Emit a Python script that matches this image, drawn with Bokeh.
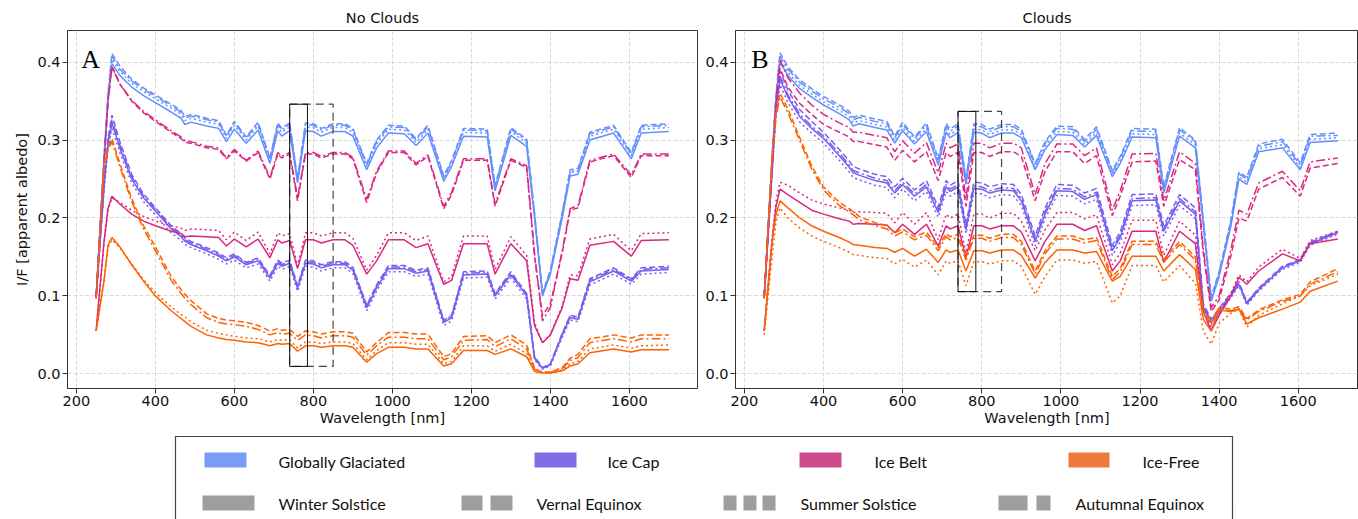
from bokeh.plotting import figure
from bokeh.layouts import column, row
from bokeh.models import Range1d, Label, FixedTicker, PrintfTickFormatter
from bokeh.embed import file_html
from bokeh.resources import INLINE
from bokeh.core.properties import value

# ---------------------------------------------------------------- data
wavelength = [250, 270, 280, 290, 310, 340, 370, 400, 440, 465, 475, 490, 530, 560, 580,
              600, 630, 660, 690, 710, 720, 740, 760, 780, 800, 820, 850, 880, 900, 935,
              960, 990, 1030, 1060, 1090, 1130, 1150, 1180, 1240, 1260, 1300, 1340, 1360,
              1380, 1400, 1430, 1450, 1470, 1500, 1560, 1605, 1630, 1700]

# --- No clouds
nc_glob_win = [0.098, 0.27, 0.35, 0.398, 0.383, 0.368, 0.357, 0.348, 0.336, 0.328, 0.32, 0.323, 0.318, 0.315, 0.298, 0.314, 0.296, 0.313, 0.27, 0.312, 0.305, 0.312, 0.245, 0.312, 0.311, 0.305, 0.311, 0.311, 0.305, 0.262, 0.29, 0.309, 0.308, 0.293, 0.309, 0.247, 0.266, 0.305, 0.304, 0.235, 0.306, 0.292, 0.2, 0.1, 0.128, 0.2, 0.254, 0.256, 0.3, 0.309, 0.276, 0.309, 0.311]
nc_glob_ver = [0.1, 0.28, 0.36, 0.411, 0.395, 0.378, 0.367, 0.358, 0.346, 0.338, 0.33, 0.333, 0.328, 0.325, 0.306, 0.324, 0.304, 0.323, 0.277, 0.322, 0.315, 0.322, 0.25, 0.322, 0.321, 0.315, 0.321, 0.321, 0.315, 0.27, 0.3, 0.319, 0.318, 0.302, 0.319, 0.254, 0.274, 0.315, 0.314, 0.242, 0.316, 0.301, 0.206, 0.104, 0.133, 0.207, 0.262, 0.264, 0.31, 0.319, 0.284, 0.319, 0.321]
nc_glob_sum = [0.099, 0.274, 0.354, 0.404, 0.388, 0.373, 0.362, 0.353, 0.341, 0.333, 0.325, 0.328, 0.323, 0.32, 0.302, 0.319, 0.3, 0.318, 0.273, 0.317, 0.31, 0.317, 0.247, 0.317, 0.316, 0.31, 0.316, 0.316, 0.31, 0.266, 0.295, 0.314, 0.313, 0.297, 0.314, 0.25, 0.27, 0.31, 0.309, 0.238, 0.311, 0.296, 0.203, 0.102, 0.13, 0.203, 0.258, 0.26, 0.305, 0.314, 0.28, 0.314, 0.316]
nc_glob_aut = [0.1, 0.277, 0.357, 0.408, 0.391, 0.376, 0.365, 0.356, 0.344, 0.336, 0.328, 0.331, 0.326, 0.323, 0.305, 0.322, 0.303, 0.321, 0.276, 0.32, 0.313, 0.32, 0.249, 0.32, 0.319, 0.313, 0.319, 0.319, 0.313, 0.268, 0.298, 0.317, 0.316, 0.3, 0.317, 0.252, 0.272, 0.313, 0.312, 0.24, 0.314, 0.299, 0.205, 0.103, 0.131, 0.205, 0.26, 0.262, 0.308, 0.317, 0.282, 0.317, 0.319]

nc_cap_win = [0.098, 0.24, 0.295, 0.322, 0.29, 0.25, 0.226, 0.209, 0.186, 0.176, 0.17, 0.166, 0.158, 0.151, 0.145, 0.15, 0.14, 0.145, 0.123, 0.142, 0.138, 0.142, 0.11, 0.142, 0.141, 0.136, 0.14, 0.14, 0.133, 0.085, 0.11, 0.135, 0.135, 0.129, 0.132, 0.066, 0.072, 0.127, 0.128, 0.1, 0.127, 0.1, 0.02, 0.007, 0.012, 0.05, 0.072, 0.07, 0.118, 0.132, 0.119, 0.132, 0.134]
nc_cap_ver = [0.098, 0.245, 0.302, 0.332, 0.298, 0.256, 0.231, 0.213, 0.19, 0.18, 0.174, 0.17, 0.162, 0.155, 0.149, 0.154, 0.143, 0.149, 0.126, 0.146, 0.142, 0.146, 0.113, 0.146, 0.145, 0.14, 0.144, 0.144, 0.137, 0.088, 0.114, 0.139, 0.139, 0.133, 0.136, 0.069, 0.075, 0.131, 0.132, 0.103, 0.131, 0.103, 0.022, 0.008, 0.013, 0.052, 0.075, 0.073, 0.122, 0.136, 0.122, 0.136, 0.138]
nc_cap_sum = [0.098, 0.235, 0.288, 0.315, 0.284, 0.245, 0.221, 0.204, 0.181, 0.171, 0.166, 0.162, 0.154, 0.147, 0.141, 0.146, 0.136, 0.141, 0.119, 0.138, 0.134, 0.138, 0.106, 0.138, 0.137, 0.132, 0.136, 0.136, 0.129, 0.081, 0.106, 0.131, 0.131, 0.125, 0.128, 0.062, 0.068, 0.123, 0.124, 0.096, 0.123, 0.096, 0.018, 0.006, 0.01, 0.047, 0.069, 0.067, 0.114, 0.128, 0.115, 0.128, 0.13]
nc_cap_aut = [0.098, 0.242, 0.298, 0.327, 0.294, 0.253, 0.228, 0.211, 0.188, 0.178, 0.172, 0.168, 0.16, 0.153, 0.147, 0.152, 0.142, 0.147, 0.125, 0.144, 0.14, 0.144, 0.112, 0.144, 0.143, 0.138, 0.142, 0.142, 0.135, 0.087, 0.112, 0.137, 0.137, 0.131, 0.134, 0.068, 0.074, 0.129, 0.13, 0.102, 0.129, 0.102, 0.021, 0.007, 0.012, 0.051, 0.074, 0.072, 0.12, 0.134, 0.121, 0.134, 0.136]

nc_belt_win = [0.055, 0.17, 0.212, 0.228, 0.218, 0.205, 0.196, 0.19, 0.183, 0.18, 0.176, 0.177, 0.176, 0.175, 0.164, 0.173, 0.163, 0.173, 0.149, 0.172, 0.168, 0.171, 0.135, 0.172, 0.172, 0.168, 0.172, 0.172, 0.165, 0.128, 0.145, 0.172, 0.172, 0.162, 0.167, 0.115, 0.12, 0.167, 0.167, 0.128, 0.167, 0.145, 0.062, 0.04, 0.05, 0.085, 0.122, 0.12, 0.165, 0.17, 0.151, 0.171, 0.172]
nc_belt_ver = [0.097, 0.27, 0.35, 0.395, 0.372, 0.35, 0.335, 0.324, 0.31, 0.302, 0.297, 0.296, 0.29, 0.288, 0.276, 0.286, 0.273, 0.284, 0.25, 0.282, 0.277, 0.282, 0.222, 0.282, 0.282, 0.277, 0.282, 0.282, 0.276, 0.22, 0.258, 0.284, 0.284, 0.268, 0.279, 0.212, 0.23, 0.274, 0.274, 0.215, 0.274, 0.265, 0.15, 0.075, 0.09, 0.155, 0.21, 0.213, 0.272, 0.28, 0.252, 0.28, 0.28]
nc_belt_sum = [0.055, 0.168, 0.21, 0.226, 0.22, 0.21, 0.202, 0.196, 0.19, 0.187, 0.184, 0.186, 0.185, 0.184, 0.172, 0.182, 0.171, 0.182, 0.154, 0.181, 0.177, 0.18, 0.138, 0.181, 0.181, 0.177, 0.181, 0.181, 0.174, 0.133, 0.152, 0.181, 0.181, 0.171, 0.177, 0.118, 0.125, 0.177, 0.177, 0.134, 0.176, 0.152, 0.066, 0.04, 0.05, 0.087, 0.127, 0.126, 0.173, 0.179, 0.158, 0.18, 0.181]
nc_belt_aut = [0.097, 0.27, 0.35, 0.393, 0.372, 0.351, 0.337, 0.326, 0.312, 0.304, 0.299, 0.298, 0.292, 0.29, 0.277, 0.288, 0.274, 0.286, 0.252, 0.284, 0.279, 0.284, 0.226, 0.284, 0.284, 0.279, 0.284, 0.284, 0.278, 0.224, 0.26, 0.286, 0.286, 0.27, 0.281, 0.215, 0.233, 0.276, 0.276, 0.218, 0.276, 0.267, 0.155, 0.068, 0.085, 0.158, 0.212, 0.216, 0.274, 0.282, 0.255, 0.282, 0.282]

nc_free_win = [0.055, 0.12, 0.165, 0.175, 0.163, 0.14, 0.119, 0.1, 0.081, 0.071, 0.067, 0.061, 0.05, 0.046, 0.044, 0.043, 0.041, 0.04, 0.036, 0.039, 0.038, 0.039, 0.029, 0.036, 0.036, 0.034, 0.036, 0.036, 0.034, 0.015, 0.026, 0.034, 0.034, 0.032, 0.032, 0.01, 0.013, 0.03, 0.03, 0.025, 0.032, 0.022, 0.003, 0.001, 0.001, 0.004, 0.01, 0.013, 0.027, 0.032, 0.028, 0.031, 0.031]
nc_free_ver = [0.097, 0.27, 0.29, 0.302, 0.27, 0.225, 0.19, 0.163, 0.125, 0.108, 0.102, 0.094, 0.077, 0.071, 0.069, 0.068, 0.066, 0.062, 0.055, 0.058, 0.056, 0.057, 0.048, 0.055, 0.054, 0.051, 0.054, 0.054, 0.052, 0.028, 0.04, 0.053, 0.053, 0.051, 0.051, 0.022, 0.026, 0.048, 0.049, 0.04, 0.05, 0.037, 0.007, 0.002, 0.002, 0.008, 0.02, 0.025, 0.045, 0.05, 0.046, 0.05, 0.05]
nc_free_sum = [0.055, 0.118, 0.162, 0.172, 0.162, 0.141, 0.121, 0.104, 0.086, 0.076, 0.073, 0.067, 0.056, 0.052, 0.05, 0.048, 0.046, 0.045, 0.041, 0.044, 0.043, 0.044, 0.033, 0.041, 0.041, 0.039, 0.041, 0.041, 0.039, 0.018, 0.03, 0.04, 0.04, 0.038, 0.038, 0.013, 0.016, 0.036, 0.036, 0.029, 0.038, 0.026, 0.004, 0.001, 0.001, 0.005, 0.013, 0.016, 0.032, 0.037, 0.033, 0.036, 0.037]
nc_free_aut = [0.097, 0.265, 0.287, 0.298, 0.266, 0.221, 0.186, 0.158, 0.12, 0.103, 0.097, 0.089, 0.072, 0.066, 0.064, 0.063, 0.061, 0.057, 0.05, 0.053, 0.051, 0.052, 0.043, 0.05, 0.049, 0.046, 0.049, 0.049, 0.047, 0.024, 0.036, 0.047, 0.047, 0.045, 0.045, 0.018, 0.022, 0.043, 0.044, 0.035, 0.045, 0.032, 0.006, 0.002, 0.002, 0.007, 0.017, 0.021, 0.04, 0.045, 0.041, 0.045, 0.045]

# --- Clouds
cl_glob_win = [0.098, 0.27, 0.35, 0.4, 0.383, 0.366, 0.355, 0.345, 0.334, 0.326, 0.318, 0.321, 0.316, 0.313, 0.296, 0.312, 0.295, 0.311, 0.268, 0.31, 0.303, 0.31, 0.243, 0.31, 0.309, 0.303, 0.309, 0.309, 0.303, 0.262, 0.288, 0.307, 0.306, 0.291, 0.306, 0.253, 0.27, 0.304, 0.303, 0.232, 0.305, 0.29, 0.19, 0.093, 0.125, 0.19, 0.25, 0.243, 0.285, 0.29, 0.262, 0.297, 0.299]
cl_glob_ver = [0.1, 0.28, 0.36, 0.412, 0.394, 0.377, 0.366, 0.356, 0.345, 0.337, 0.329, 0.332, 0.327, 0.324, 0.305, 0.323, 0.304, 0.322, 0.276, 0.321, 0.314, 0.321, 0.25, 0.321, 0.32, 0.314, 0.32, 0.32, 0.314, 0.27, 0.298, 0.318, 0.317, 0.301, 0.317, 0.261, 0.279, 0.315, 0.314, 0.24, 0.316, 0.3, 0.198, 0.099, 0.131, 0.198, 0.259, 0.252, 0.295, 0.301, 0.271, 0.307, 0.309]
cl_glob_sum = [0.099, 0.274, 0.354, 0.404, 0.387, 0.37, 0.359, 0.349, 0.338, 0.33, 0.322, 0.325, 0.32, 0.317, 0.299, 0.316, 0.298, 0.315, 0.271, 0.314, 0.307, 0.314, 0.245, 0.314, 0.313, 0.307, 0.313, 0.313, 0.307, 0.265, 0.292, 0.311, 0.31, 0.294, 0.31, 0.256, 0.273, 0.308, 0.307, 0.234, 0.309, 0.294, 0.193, 0.095, 0.127, 0.193, 0.253, 0.246, 0.289, 0.294, 0.265, 0.301, 0.303]
cl_glob_aut = [0.1, 0.277, 0.357, 0.408, 0.391, 0.374, 0.363, 0.353, 0.342, 0.334, 0.326, 0.329, 0.324, 0.321, 0.303, 0.32, 0.302, 0.319, 0.274, 0.318, 0.311, 0.318, 0.248, 0.318, 0.317, 0.311, 0.317, 0.317, 0.311, 0.268, 0.296, 0.315, 0.314, 0.298, 0.314, 0.259, 0.277, 0.312, 0.311, 0.237, 0.313, 0.298, 0.196, 0.097, 0.129, 0.196, 0.257, 0.25, 0.292, 0.298, 0.268, 0.305, 0.306]

cl_cap_win = [0.098, 0.26, 0.34, 0.378, 0.355, 0.33, 0.315, 0.302, 0.28, 0.265, 0.258, 0.255, 0.248, 0.245, 0.232, 0.243, 0.228, 0.24, 0.207, 0.24, 0.234, 0.24, 0.185, 0.238, 0.237, 0.232, 0.236, 0.235, 0.222, 0.17, 0.205, 0.235, 0.234, 0.224, 0.23, 0.158, 0.175, 0.222, 0.223, 0.183, 0.222, 0.205, 0.085, 0.066, 0.08, 0.1, 0.115, 0.09, 0.108, 0.136, 0.145, 0.167, 0.181]
cl_cap_ver = [0.098, 0.265, 0.348, 0.389, 0.364, 0.339, 0.324, 0.31, 0.288, 0.273, 0.266, 0.263, 0.256, 0.253, 0.24, 0.251, 0.236, 0.248, 0.214, 0.248, 0.242, 0.248, 0.191, 0.246, 0.245, 0.24, 0.244, 0.243, 0.23, 0.177, 0.213, 0.243, 0.242, 0.232, 0.238, 0.165, 0.182, 0.23, 0.231, 0.19, 0.23, 0.213, 0.09, 0.07, 0.084, 0.104, 0.118, 0.092, 0.11, 0.138, 0.147, 0.169, 0.183]
cl_cap_sum = [0.098, 0.255, 0.333, 0.371, 0.348, 0.323, 0.309, 0.296, 0.274, 0.259, 0.252, 0.249, 0.242, 0.239, 0.226, 0.237, 0.222, 0.234, 0.201, 0.234, 0.228, 0.234, 0.18, 0.232, 0.231, 0.226, 0.23, 0.229, 0.216, 0.164, 0.199, 0.229, 0.228, 0.218, 0.224, 0.152, 0.169, 0.216, 0.217, 0.177, 0.216, 0.199, 0.081, 0.063, 0.077, 0.098, 0.113, 0.088, 0.106, 0.134, 0.143, 0.165, 0.179]
cl_cap_aut = [0.098, 0.262, 0.343, 0.382, 0.358, 0.333, 0.318, 0.305, 0.283, 0.268, 0.261, 0.258, 0.251, 0.248, 0.235, 0.246, 0.231, 0.243, 0.21, 0.243, 0.237, 0.243, 0.188, 0.241, 0.24, 0.235, 0.239, 0.238, 0.225, 0.173, 0.208, 0.238, 0.237, 0.227, 0.233, 0.161, 0.178, 0.225, 0.226, 0.186, 0.225, 0.208, 0.087, 0.068, 0.082, 0.102, 0.116, 0.091, 0.109, 0.137, 0.146, 0.168, 0.182]

cl_belt_win = [0.055, 0.17, 0.215, 0.237, 0.23, 0.22, 0.21, 0.205, 0.199, 0.196, 0.192, 0.193, 0.192, 0.191, 0.181, 0.192, 0.179, 0.192, 0.164, 0.19, 0.186, 0.19, 0.149, 0.19, 0.19, 0.186, 0.19, 0.19, 0.182, 0.145, 0.17, 0.192, 0.192, 0.184, 0.19, 0.132, 0.145, 0.183, 0.183, 0.143, 0.183, 0.167, 0.08, 0.055, 0.075, 0.1, 0.124, 0.115, 0.132, 0.154, 0.145, 0.167, 0.173]
cl_belt_ver = [0.097, 0.265, 0.34, 0.392, 0.368, 0.347, 0.333, 0.32, 0.31, 0.304, 0.298, 0.298, 0.294, 0.291, 0.274, 0.287, 0.272, 0.285, 0.248, 0.284, 0.279, 0.284, 0.215, 0.284, 0.284, 0.279, 0.285, 0.285, 0.279, 0.222, 0.26, 0.285, 0.285, 0.27, 0.28, 0.203, 0.228, 0.272, 0.273, 0.215, 0.275, 0.262, 0.155, 0.08, 0.095, 0.152, 0.2, 0.196, 0.237, 0.252, 0.228, 0.264, 0.27]
cl_belt_sum = [0.055, 0.175, 0.222, 0.246, 0.242, 0.232, 0.223, 0.218, 0.213, 0.21, 0.207, 0.208, 0.207, 0.206, 0.194, 0.207, 0.192, 0.207, 0.172, 0.205, 0.2, 0.205, 0.155, 0.205, 0.205, 0.2, 0.206, 0.206, 0.196, 0.158, 0.185, 0.207, 0.207, 0.199, 0.204, 0.14, 0.155, 0.197, 0.197, 0.152, 0.196, 0.178, 0.085, 0.058, 0.078, 0.103, 0.127, 0.118, 0.137, 0.16, 0.148, 0.171, 0.183]
cl_belt_aut = [0.097, 0.27, 0.35, 0.403, 0.38, 0.36, 0.345, 0.333, 0.322, 0.316, 0.31, 0.31, 0.306, 0.303, 0.285, 0.299, 0.283, 0.297, 0.258, 0.296, 0.29, 0.295, 0.225, 0.296, 0.296, 0.29, 0.296, 0.296, 0.29, 0.23, 0.27, 0.295, 0.295, 0.28, 0.29, 0.21, 0.235, 0.282, 0.283, 0.222, 0.285, 0.27, 0.16, 0.085, 0.1, 0.16, 0.21, 0.205, 0.245, 0.26, 0.235, 0.272, 0.277]

cl_free_win = [0.055, 0.17, 0.205, 0.222, 0.213, 0.2, 0.19, 0.183, 0.175, 0.169, 0.166, 0.165, 0.162, 0.161, 0.156, 0.161, 0.151, 0.16, 0.143, 0.159, 0.156, 0.159, 0.132, 0.158, 0.158, 0.155, 0.159, 0.159, 0.152, 0.123, 0.143, 0.159, 0.159, 0.155, 0.157, 0.119, 0.125, 0.151, 0.151, 0.132, 0.153, 0.134, 0.07, 0.055, 0.082, 0.08, 0.083, 0.064, 0.072, 0.083, 0.092, 0.106, 0.119]
cl_free_ver = [0.097, 0.28, 0.335, 0.36, 0.34, 0.303, 0.267, 0.24, 0.22, 0.212, 0.208, 0.202, 0.194, 0.19, 0.181, 0.186, 0.176, 0.182, 0.162, 0.18, 0.176, 0.179, 0.15, 0.178, 0.178, 0.174, 0.179, 0.179, 0.17, 0.132, 0.158, 0.177, 0.177, 0.172, 0.175, 0.125, 0.135, 0.17, 0.17, 0.147, 0.17, 0.15, 0.08, 0.068, 0.085, 0.083, 0.086, 0.071, 0.082, 0.095, 0.102, 0.118, 0.135]
cl_free_sum = [0.05, 0.15, 0.195, 0.213, 0.2, 0.187, 0.177, 0.17, 0.162, 0.156, 0.153, 0.152, 0.149, 0.148, 0.141, 0.147, 0.137, 0.146, 0.127, 0.145, 0.142, 0.145, 0.113, 0.144, 0.144, 0.141, 0.145, 0.145, 0.138, 0.102, 0.125, 0.146, 0.146, 0.142, 0.144, 0.091, 0.1, 0.139, 0.139, 0.118, 0.139, 0.116, 0.055, 0.038, 0.065, 0.078, 0.083, 0.06, 0.075, 0.09, 0.1, 0.113, 0.128]
cl_free_aut = [0.097, 0.275, 0.33, 0.355, 0.335, 0.299, 0.263, 0.236, 0.216, 0.208, 0.204, 0.198, 0.19, 0.186, 0.177, 0.182, 0.172, 0.178, 0.158, 0.176, 0.172, 0.175, 0.146, 0.174, 0.174, 0.17, 0.175, 0.175, 0.166, 0.128, 0.154, 0.173, 0.173, 0.168, 0.171, 0.121, 0.131, 0.166, 0.166, 0.143, 0.166, 0.146, 0.077, 0.064, 0.083, 0.081, 0.084, 0.069, 0.08, 0.093, 0.1, 0.115, 0.131]

surfaces = ["Globally Glaciated", "Ice Cap", "Ice Belt", "Ice-Free"]
seasons = ["Winter Solstice", "Vernal Equinox", "Summer Solstice", "Autumnal Equinox"]

no_clouds = [
    [nc_glob_win, nc_glob_ver, nc_glob_sum, nc_glob_aut],
    [nc_cap_win, nc_cap_ver, nc_cap_sum, nc_cap_aut],
    [nc_belt_win, nc_belt_ver, nc_belt_sum, nc_belt_aut],
    [nc_free_win, nc_free_ver, nc_free_sum, nc_free_aut],
]
clouds = [
    [cl_glob_win, cl_glob_ver, cl_glob_sum, cl_glob_aut],
    [cl_cap_win, cl_cap_ver, cl_cap_sum, cl_cap_aut],
    [cl_belt_win, cl_belt_ver, cl_belt_sum, cl_belt_aut],
    [cl_free_win, cl_free_ver, cl_free_sum, cl_free_aut],
]

# wavelength windows outlined on both panels (nm)
o2_window = (740, 785)
wide_window = (740, 850)
window_albedo = {"No Clouds": (0.0095, 0.346), "Clouds": (0.1055, 0.3367)}

x_ticks = [200, 400, 600, 800, 1000, 1200, 1400, 1600]
y_ticks = [0.0, 0.1, 0.2, 0.3, 0.4]

# ---------------------------------------------------------------- styles
line_colors = ["#648FFF", "#785EF0", "#DC267F", "#FE6100"]
patch_colors = ["#7A9CF7", "#7F6EE6", "#CD4A8B", "#EE7A3C"]
season_dash = ["solid", "6 3", "2 3", "9 3 2 3"]
TEXT_FONT = "DejaVu Sans"
TEXT_SIZE = "14.5px"

for group in no_clouds + clouds:
    for s in group:
        assert len(s) == len(wavelength)


def make_panel(title, spectra, letter, letter_x, width, left, x_end, show_ylabel):
    p = figure(width=width, height=430,
               x_range=Range1d(177.5, x_end), y_range=Range1d(-0.0188, 0.4406),
               output_backend="svg", toolbar_location=None,
               min_border_left=left, min_border_right=3 if show_ylabel else 0,
               min_border_top=30, min_border_bottom=42)
    p.background_fill_color = "white"
    p.border_fill_color = "white"
    p.outline_line_color = "#333333"
    p.outline_line_width = 1

    p.title.text = title
    p.title.align = "center"
    p.title.text_font = TEXT_FONT
    p.title.text_font_size = TEXT_SIZE
    p.title.text_font_style = "normal"
    p.title.text_color = "#111111"

    p.xaxis.ticker = FixedTicker(ticks=x_ticks)
    p.yaxis.ticker = FixedTicker(ticks=y_ticks)
    p.yaxis.formatter = PrintfTickFormatter(format="%.1f")
    for ax in (p.xaxis[0], p.yaxis[0]):
        ax.axis_line_color = "#333333"
        ax.major_tick_line_color = "#333333"
        ax.major_tick_out = 5
        ax.major_tick_in = 0
        ax.minor_tick_line_color = None
        ax.major_label_text_font = TEXT_FONT
        ax.major_label_text_font_size = TEXT_SIZE
        ax.major_label_text_color = "#111111"
        ax.major_label_standoff = 2
        ax.axis_label_text_font = TEXT_FONT
        ax.axis_label_text_font_size = TEXT_SIZE
        ax.axis_label_text_font_style = "normal"
        ax.axis_label_text_color = "#111111"
    p.xaxis.axis_label = "Wavelength [nm]"
    p.xaxis.axis_label_standoff = 1
    if show_ylabel:
        p.yaxis.axis_label = "I/F [apparent albedo]"
        p.yaxis.axis_label_standoff = 4

    p.xgrid.ticker = FixedTicker(ticks=x_ticks)
    p.ygrid.ticker = FixedTicker(ticks=y_ticks)
    p.grid.grid_line_color = "#cfcfcf"
    p.grid.grid_line_dash = "4 2"
    p.grid.grid_line_width = 0.8

    for i, surf in enumerate(surfaces):
        for j, season in enumerate(seasons):
            p.line(wavelength, spectra[i][j], line_color=line_colors[i],
                   line_width=1.5, line_dash=season_dash[j])

    lo, hi = window_albedo[title]
    p.quad(left=[wide_window[0]], right=[wide_window[1]], bottom=[lo], top=[hi],
           fill_alpha=0, line_color="#444444", line_width=1.2, line_dash="8 5")
    p.quad(left=[o2_window[0]], right=[o2_window[1]], bottom=[lo], top=[hi],
           fill_alpha=0, line_color="#111111", line_width=1)

    p.add_layout(Label(x=letter_x, y=0.403, text=letter, text_font="Liberation Serif",
                       text_font_size="26px", text_baseline="alphabetic",
                       text_color="black"))
    return p


pa = make_panel("No Clouds", no_clouds, "A", 212, 700, 67, 1772.5, True)
pb = make_panel("Clouds", clouds, "B", 217, 658, 35, 1752.3, False)

# ---------------------------------------------------------------- legend strip
leg = figure(width=1358, height=89, x_range=Range1d(0, 1358), y_range=Range1d(519, 430),
             output_backend="svg", toolbar_location=None,
             x_axis_location=None, y_axis_location=None,
             min_border_left=0, min_border_right=0, min_border_top=0, min_border_bottom=0)
leg.grid.visible = False
leg.outline_line_color = None
leg.background_fill_color = "white"
leg.border_fill_color = "white"

leg.quad(left=[175], right=[1232], top=[436], bottom=[560], fill_alpha=0,
         line_color="#444444", line_width=1.2)

surface_patch_x = [(204, 246), (534, 576), (799, 841), (1068, 1109)]
surface_text_x = [278, 607, 874, 1142]
leg.quad(left=[a for a, b in surface_patch_x], right=[b for a, b in surface_patch_x],
         top=[452] * 4, bottom=[467] * 4, fill_color=patch_colors, line_color=None)
leg.text(x=surface_text_x, y=[461] * 4, text=surfaces, text_font=value("Lato"),
         text_font_size="16px", text_baseline="middle", text_color="#111111")

season_blocks = [
    [(202, 254)],
    [(461, 482), (490, 512)],
    [(723, 736), (743, 756), (762, 775)],
    [(998, 1027), (1036, 1050)],
]
season_text_x = [278, 536, 800, 1075]
lefts, rights = [], []
for blocks in season_blocks:
    for a, b in blocks:
        lefts.append(a)
        rights.append(b)
leg.quad(left=lefts, right=rights, top=[495] * len(lefts), bottom=[510] * len(lefts),
         fill_color="#9E9E9E", line_color=None)
leg.text(x=season_text_x, y=[503] * 4, text=seasons, text_font=value("Lato"),
         text_font_size="16px", text_baseline="middle", text_color="#111111")

layout = column(row(pa, pb), leg)
open("out.html", "w").write(file_html(layout, INLINE))
